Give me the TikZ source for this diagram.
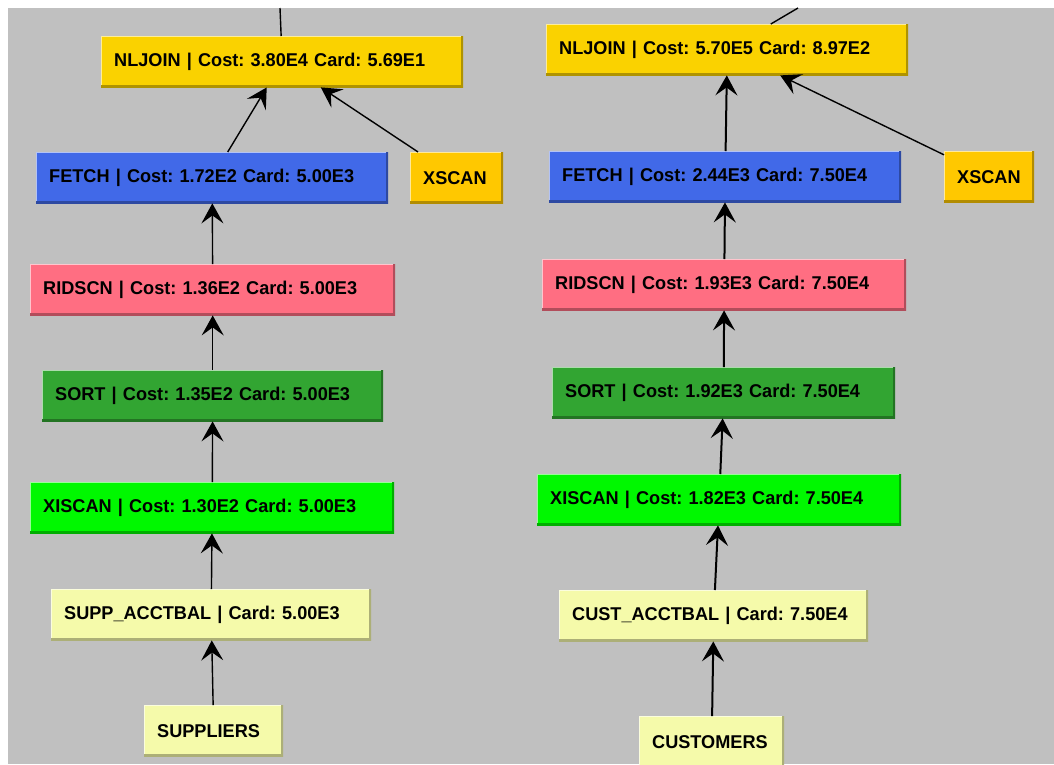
\documentclass[tikz,border=0pt]{standalone}
\usepackage{fontspec}
\setmainfont{Liberation Sans}[FakeStretch=0.98]
\usetikzlibrary{arrows.meta}

\definecolor{panel}{RGB}{192,192,192}
\definecolor{joincol}{RGB}{250,210,0}
\definecolor{xscancol}{RGB}{255,200,0}
\definecolor{fetchcol}{RGB}{65,105,232}
\definecolor{ridcol}{RGB}{255,110,130}
\definecolor{sortcol}{RGB}{50,165,50}
\definecolor{xiscol}{RGB}{0,248,0}
\definecolor{tabcol}{RGB}{245,250,170}

\tikzset{
  bevel/.style={path picture={
    \draw[line width=2.5pt,#1!40!white] (path picture bounding box.south west) -- (path picture bounding box.north west) -- (path picture bounding box.north east);
    \draw[line width=5pt,#1!70!black] (path picture bounding box.north east) -- (path picture bounding box.south east) -- (path picture bounding box.south west);}},
  op/.style={fill=#1, bevel=#1, anchor=north west, minimum height=51pt, inner xsep=13pt, inner ysep=0pt,
    align=left, font=\fontsize{18.5}{20}\selectfont\bfseries\frenchspacing},
  flow/.style={-{Stealth[length=20pt,width=22pt,inset=8pt]}, line width=#1},
  flow/.default=1.4pt,
}

\begin{document}
\begin{tikzpicture}[x=1pt,y=-1pt]
	\useasboundingbox (0,0) rectangle (1054,764);
	\fill[panel] (8,8) rectangle (1054,764);

	% supplier side
	\node[op=joincol, text width=336pt] (ljoin) at (101,36) {NLJOIN | Cost: 3.80E4 Card: 5.69E1};
	\node[op=xscancol, text width=67pt] (lxscan) at (410,152) {XSCAN};
	\node[op=fetchcol, text width=326pt] (lfetch) at (36,152) {FETCH | Cost: 1.72E2 Card: 5.00E3};
	\node[op=ridcol, text width=339pt] (lrid) at (30,264) {RIDSCN | Cost: 1.36E2 Card: 5.00E3};
	\node[op=sortcol, text width=315pt] (lsort) at (42,370) {SORT | Cost: 1.35E2 Card: 5.00E3};
	\node[op=xiscol, text width=338pt] (lxis) at (30,482) {XISCAN | Cost: 1.30E2 Card: 5.00E3};
	\node[op=tabcol, text width=294pt] (lacct) at (51,589) {SUPP\_ACCTBAL | Card: 5.00E3};
	\node[op=tabcol, text width=113pt] (lsupp) at (144,705) {SUPPLIERS};
	\coordinate (lup) at (280,8);

	% customer side
	\node[op=joincol, text width=336pt] (rjoin) at (546,24) {NLJOIN | Cost: 5.70E5 Card: 8.97E2};
	\node[op=xscancol, text width=64pt] (rxscan) at (944,151) {XSCAN};
	\node[op=fetchcol, text width=326pt] (rfetch) at (549,151) {FETCH | Cost: 2.44E3 Card: 7.50E4};
	\node[op=ridcol, text width=338pt] (rrid) at (542,259) {RIDSCN | Cost: 1.93E3 Card: 7.50E4};
	\node[op=sortcol, text width=317pt] (rsort) at (552,367) {SORT | Cost: 1.92E3 Card: 7.50E4};
	\node[op=xiscol, text width=338pt] (rxis) at (537,474) {XISCAN | Cost: 1.82E3 Card: 7.50E4};
	\node[op=tabcol, text width=283pt] (racct) at (559,590) {CUST\_ACCTBAL | Card: 7.50E4};
	\node[op=tabcol, text width=119pt] (rcust) at (639,716) {CUSTOMERS};
	\coordinate (rup) at (798,8);

	\draw[line width=1.4pt] (ljoin) -- (lup);
	\draw[line width=1.4pt] (rjoin) -- (rup);
	\path[flow]
	(lfetch) edge (ljoin)
	(lxscan) edge (ljoin)
	(lrid) edge (lfetch)
	(lsort) edge (lrid)
	(lxis) edge (lsort)
	(lacct) edge (lxis)
	(lsupp) edge (lacct);
	\path[flow=2pt]
	(rfetch) edge (rjoin)
	(rrid) edge (rfetch)
	(rsort) edge (rrid)
	(rxis) edge (rsort)
	(racct) edge (rxis)
	(rcust) edge (racct);
	\path[flow] (rxscan) edge (rjoin);
\end{tikzpicture}
\end{document}
